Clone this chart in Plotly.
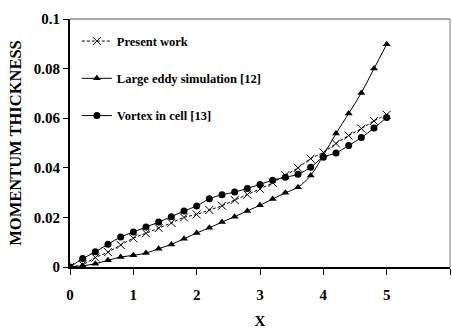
import plotly.graph_objects as go

x_vals = [round(0.2 * i, 1) for i in range(26)]

present_work = [0, 0.001, 0.0038, 0.006, 0.0089, 0.0116, 0.0136, 0.0157, 0.0178, 0.020,
                0.0212, 0.023, 0.0247, 0.027, 0.0292, 0.0315, 0.034, 0.037, 0.040, 0.0437,
                0.0462, 0.0498, 0.053, 0.0558, 0.0589, 0.0614]
large_eddy = [0, 0.0005, 0.0013, 0.0027, 0.004, 0.0047, 0.0056, 0.0074, 0.0091, 0.0114,
              0.0137, 0.0158, 0.0181, 0.0203, 0.0226, 0.0249, 0.0274, 0.0299, 0.0322, 0.0369,
              0.045, 0.0538, 0.0619, 0.0702, 0.080, 0.0898]
vortex_cell = [0, 0.0034, 0.0061, 0.0092, 0.0121, 0.0141, 0.0161, 0.0181, 0.0203, 0.0226,
               0.0246, 0.0275, 0.0291, 0.0302, 0.0317, 0.0333, 0.035, 0.0362, 0.0374, 0.0402,
               0.0443, 0.046, 0.049, 0.0522, 0.056, 0.0603]

names = ["Present work", "Large eddy simulation [12]", "Vortex in cell [13]"]

FONT = "'Liberation Serif', 'Times New Roman', serif"

fig = go.Figure()
fig.add_trace(go.Scatter(
    x=x_vals, y=present_work, name=names[0], mode="lines+markers", legendgroup="a",
    line=dict(color="black", width=1, dash="3px,2px", shape="spline"),
    marker=dict(symbol="x-thin", size=8, line=dict(color="black", width=1), color="black"),
))
fig.add_trace(go.Scatter(
    x=x_vals, y=large_eddy, name=names[1], mode="lines+markers", legendgroup="b",
    line=dict(color="black", width=1, shape="spline"),
    marker=dict(symbol="triangle-up", size=7, color="black"),
))
fig.add_trace(go.Scatter(
    x=x_vals, y=vortex_cell, name=names[2], mode="lines+markers", legendgroup="c",
    line=dict(color="black", width=1, shape="spline"),
    marker=dict(symbol="circle", size=7, color="black"),
))

fig.update_layout(
    width=452, height=334,
    margin=dict(l=70, r=2, t=19, b=67),
    paper_bgcolor="white", plot_bgcolor="white",
    font=dict(family=FONT, color="black", size=15, weight="bold"),
    showlegend=True,
    legend=dict(x=0.018, y=0.97, xanchor="left", yanchor="top",
                bgcolor="rgba(0,0,0,0)", font=dict(size=12.5, family=FONT, weight="bold"),
                tracegroupgap=18, traceorder="grouped"),
    xaxis=dict(range=[0, 6], dtick=1, tick0=0, showgrid=False, zeroline=False,
               showline=True, linecolor="black", linewidth=2,
               ticks="outside", ticklen=6, tickcolor="black", tickwidth=1,
               ticklabelstandoff=7,
               title=dict(text="X", standoff=13, font=dict(size=15, family=FONT, weight="bold")),
               tickfont=dict(size=15, family=FONT, weight="bold")),
    yaxis=dict(range=[0, 0.1], dtick=0.02, tick0=0, showgrid=False, zeroline=False,
               showline=True, linecolor="black", linewidth=2,
               ticks="outside", ticklen=5, tickcolor="black", tickwidth=1,
               title=dict(text="MOMENTUM THICKNESS", standoff=8,
                          font=dict(size=16.5, family=FONT, weight="bold")),
               tickfont=dict(size=15, family=FONT, weight="bold")),
    shapes=[
        dict(type="line", xref="paper", yref="paper", x0=0, x1=1, y0=1, y1=1,
             line=dict(color="#555555", width=1)),
        dict(type="line", xref="paper", yref="paper", x0=1, x1=1, y0=0, y1=1,
             line=dict(color="#777777", width=1)),
    ],
)

fig.write_html("out.html")
